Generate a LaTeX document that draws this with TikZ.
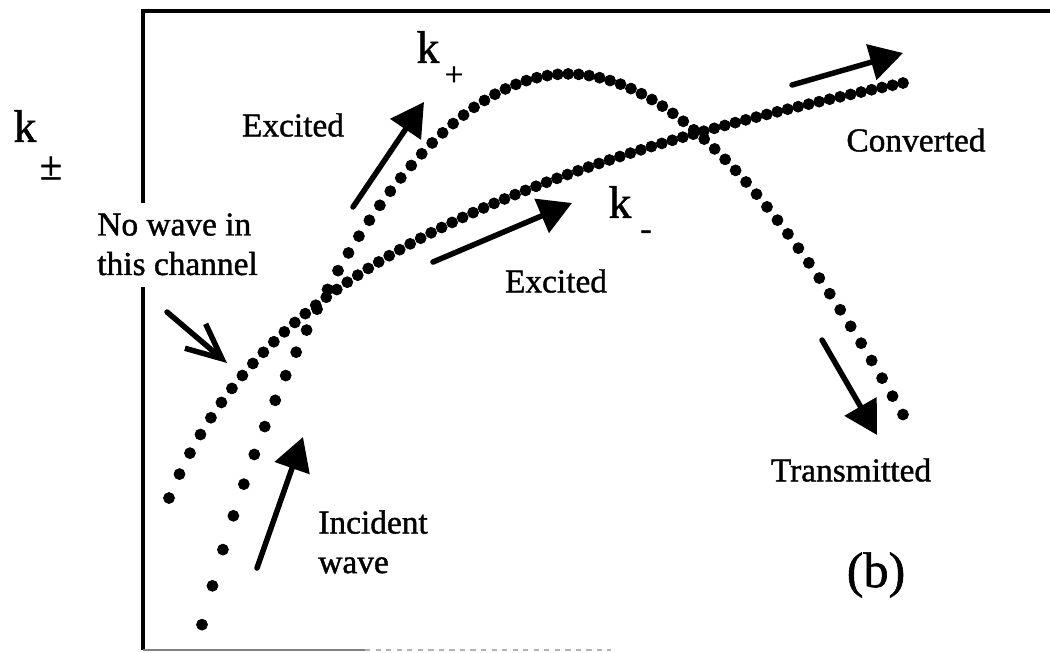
\documentclass[tikz,border=0pt]{standalone}
\usepackage{fontspec}
\setmainfont{Liberation Serif}[UprightFeatures={FakeBold=1.2}]
\usetikzlibrary{arrows.meta}

\begin{document}
\begin{tikzpicture}[x=0.02cm,y=-0.02cm,
    declare function={ukp(\x)=(\x-565)/100;
      kplus(\x)=72+37.54*ukp(\x)*ukp(\x)-2.237*abs(ukp(\x))*ukp(\x)*ukp(\x)+165*exp(-(\x-202)/82);
      kminus(\x)=1214-169.1*ln(\x-100);},
    lbl/.style={font=\fontsize{19}{22.5}\selectfont,inner sep=0pt,align=left},
    kvar/.style={font=\fontsize{26}{30}\selectfont,inner sep=0pt},
    ksub/.style={font=\fontsize{19}{22}\selectfont,inner sep=0pt},
    arr/.style={-{Triangle[length=0.66cm,width=0.72cm]},line width=0.11cm,line cap=round},
    openarr/.style={-{Straight Barb[length=0.7cm,width=0.64cm]},line width=0.11cm,line cap=round},
    axisline/.style={line width=0.09cm},
    beads/.style={only marks,mark=*,mark size=0.11cm,mark options={draw=none,fill=black}}
  ]
    \useasboundingbox (0,0) rectangle (1050,652);

    % frame
    \draw[axisline] (143,203) -- (143,11) -- (1050,11);
    \draw[axisline] (143,287) -- (143,650);
    \draw[gray,line width=0.03cm] (143,650) -- (365,650);
    \draw[gray!60,line width=0.03cm,dashed] (365,650) -- (611,650);

    % the two branches
    \draw plot[beads,domain=202:903,samples=68] (\x,{kplus(\x)});
    \draw plot[beads,domain=169:903,samples=71] (\x,{kminus(\x)});

    \node[kvar] (kpm) at (25,126) {k};
    \node[ksub,font=\fontsize{23}{26}\selectfont] (kpmsub) at (51,168) {±};
    \node[kvar] (kp) at (428,47) {k};
    \node[ksub] (kpsub) at (454,76) {+};
    \node[kvar] (km) at (620,202) {k};
    \node[ksub] (kmsub) at (646,235) {-};

    \node[lbl] (exca) at (293,125) {Excited};
    \node[lbl] (excb) at (556,281) {Excited};
    \node[lbl] (conv) at (916,140) {Converted};
    \node[lbl] (trans) at (851,470) {Transmitted};
    \node[lbl,anchor=north west] (nowave) at (97,213) {No wave in\\this channel};
    \node[lbl,anchor=north west] (incid) at (318,510) {Incident\\wave};
    \node[font=\fontsize{28.5}{32}\selectfont,inner sep=0pt] (tag) at (876,575) {(b)};

    % arrows
    \coordinate (excatail) at (353,207);
    \coordinate (excatip) at (424,102);
    \coordinate (excbtail) at (433,262);
    \coordinate (excbtip) at (572,203);
    \coordinate (convtail) at (792,85);
    \coordinate (convtip) at (903,53);
    \coordinate (transtail) at (822,340);
    \coordinate (transtip) at (877,435);
    \coordinate (incidtail) at (257,568);
    \coordinate (incidtip) at (303,437);
    \coordinate (nowavetail) at (167,312);
    \coordinate (nowavetip) at (227,363);

    \draw[arr] (excatail) -- (excatip);
    \draw[arr] (excbtail) -- (excbtip);
    \draw[arr] (convtail) -- (convtip);
    \draw[arr] (transtail) -- (transtip);
    \draw[arr] (incidtail) -- (incidtip);
    \draw[openarr] (nowavetail) -- (nowavetip);
\end{tikzpicture}
\end{document}
